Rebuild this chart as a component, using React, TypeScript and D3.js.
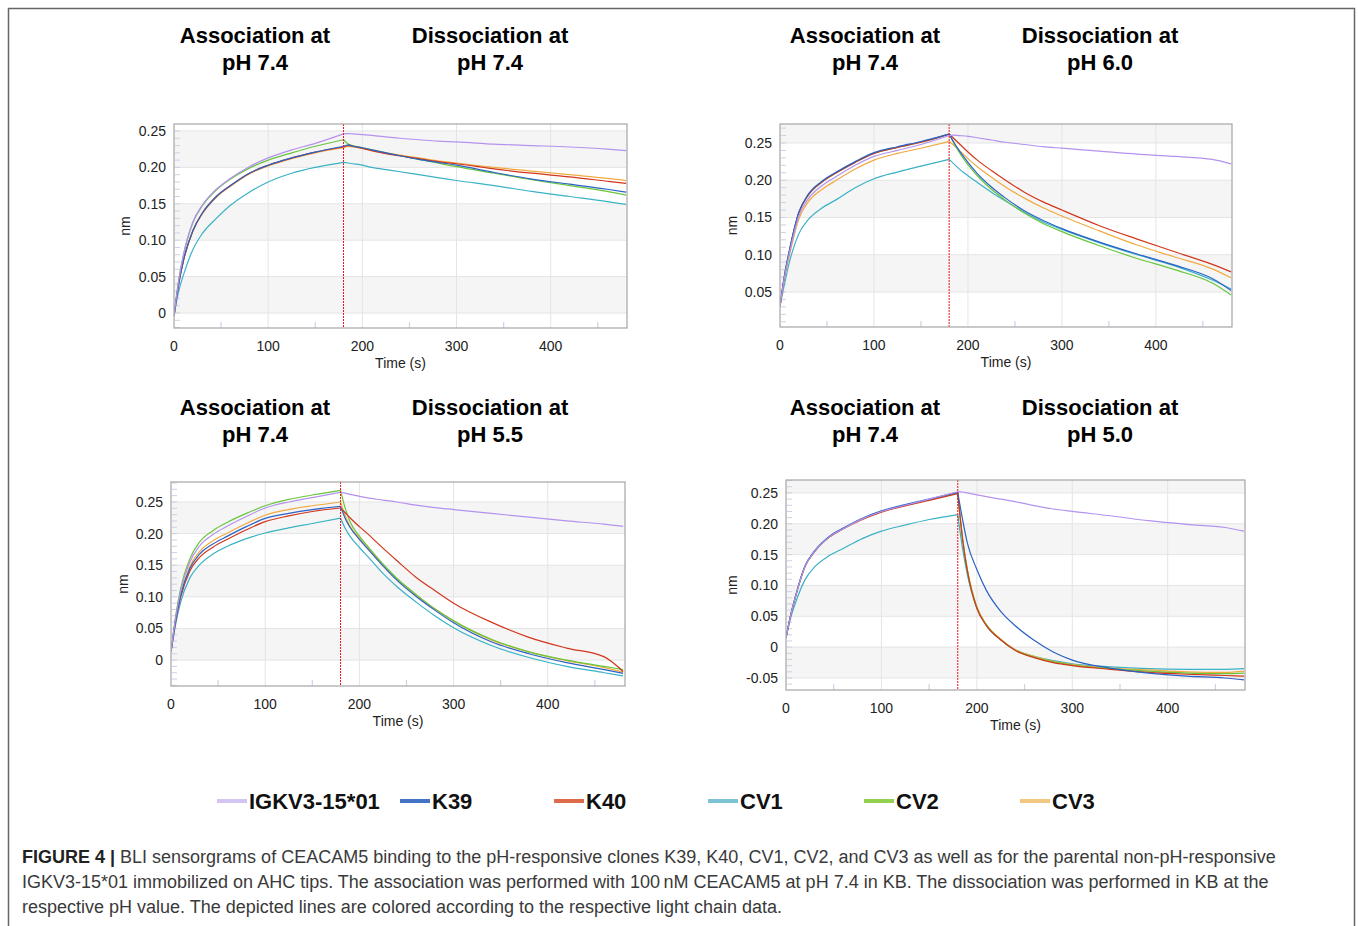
import React from "react";
import * as d3 from "d3";

// ---------------- DATA ----------------
const TIME = [0, 5, 10, 20, 30, 45, 60, 80, 100, 125, 150, 180, 185, 190, 200, 210, 225, 240, 260, 280, 300, 340, 380, 420, 460, 480];
const SERIES = ["IGKV3-15*01", "K39", "K40", "CV1", "CV2", "CV3"];
const Y_TICKS_A = [0, 0.05, 0.1, 0.15, 0.2, 0.25];
const Y_TICKS_B = [0.05, 0.1, 0.15, 0.2, 0.25];
const Y_TICKS_D = [-0.05, 0, 0.05, 0.1, 0.15, 0.2, 0.25];
const X_TICKS = [0, 100, 200, 300, 400];
const X_MINOR = [50, 150, 250, 350, 450];
const DISSOC_START = 180;

// Panel 1: dissociation at pH 7.4
const P1_IGKV = [-0.004, 0.045, 0.08, 0.125, 0.148, 0.17, 0.185, 0.201, 0.213, 0.224, 0.233, 0.246, 0.2465, 0.246, 0.245, 0.244, 0.242, 0.24, 0.238, 0.236, 0.235, 0.232, 0.23, 0.228, 0.225, 0.223];
const P1_K39 = [-0.004, 0.04, 0.072, 0.113, 0.137, 0.16, 0.175, 0.192, 0.203, 0.213, 0.221, 0.229, 0.231, 0.229, 0.227, 0.224, 0.22, 0.216, 0.211, 0.207, 0.203, 0.193, 0.184, 0.177, 0.17, 0.166];
const P1_K40 = [-0.004, 0.04, 0.072, 0.113, 0.137, 0.16, 0.175, 0.192, 0.203, 0.213, 0.221, 0.228, 0.23, 0.229, 0.226, 0.223, 0.219, 0.216, 0.212, 0.208, 0.205, 0.198, 0.192, 0.187, 0.181, 0.178];
const P1_CV1 = [-0.004, 0.03, 0.052, 0.087, 0.109, 0.13, 0.148, 0.166, 0.18, 0.192, 0.2, 0.207, 0.206, 0.205, 0.203, 0.2, 0.197, 0.194, 0.19, 0.186, 0.182, 0.175, 0.167, 0.16, 0.153, 0.149];
const P1_CV2 = [-0.004, 0.045, 0.079, 0.124, 0.147, 0.169, 0.184, 0.199, 0.21, 0.22, 0.229, 0.238, 0.232, 0.23, 0.227, 0.224, 0.22, 0.216, 0.211, 0.206, 0.201, 0.192, 0.183, 0.175, 0.167, 0.162];
const P1_CV3 = [-0.004, 0.04, 0.071, 0.112, 0.136, 0.159, 0.174, 0.191, 0.202, 0.212, 0.22, 0.227, 0.229, 0.228, 0.226, 0.223, 0.22, 0.217, 0.213, 0.209, 0.206, 0.2, 0.195, 0.19, 0.185, 0.182];

// Panel 2: dissociation at pH 6.0
const P2_IGKV = [0.031, 0.071, 0.102, 0.152, 0.175, 0.193, 0.205, 0.22, 0.232, 0.24, 0.248, 0.26, 0.2605, 0.26, 0.259, 0.257, 0.254, 0.251, 0.248, 0.245, 0.243, 0.239, 0.235, 0.232, 0.228, 0.222];
const P2_K39 = [0.031, 0.074, 0.106, 0.157, 0.181, 0.199, 0.211, 0.225, 0.237, 0.245, 0.252, 0.262, 0.251, 0.241, 0.224, 0.209, 0.191, 0.176, 0.159, 0.146, 0.135, 0.117, 0.101, 0.086, 0.068, 0.052];
const P2_K40 = [0.031, 0.073, 0.105, 0.156, 0.18, 0.198, 0.21, 0.224, 0.236, 0.244, 0.251, 0.262, 0.256, 0.25, 0.238, 0.227, 0.213, 0.2, 0.184, 0.171, 0.16, 0.139, 0.121, 0.104, 0.087, 0.077];
const P2_CV1 = [0.031, 0.062, 0.09, 0.128, 0.147, 0.163, 0.174, 0.19, 0.202, 0.211, 0.219, 0.228, 0.222, 0.216, 0.206, 0.197, 0.184, 0.172, 0.157, 0.144, 0.134, 0.116, 0.1, 0.085, 0.066, 0.054];
const P2_CV2 = [0.031, 0.073, 0.105, 0.156, 0.18, 0.198, 0.21, 0.224, 0.236, 0.244, 0.251, 0.262, 0.25, 0.239, 0.221, 0.206, 0.188, 0.173, 0.156, 0.142, 0.131, 0.112, 0.095, 0.08, 0.062, 0.046];
const P2_CV3 = [0.031, 0.069, 0.099, 0.148, 0.171, 0.188, 0.2, 0.215, 0.227, 0.236, 0.243, 0.252, 0.247, 0.241, 0.229, 0.218, 0.204, 0.191, 0.176, 0.163, 0.152, 0.132, 0.113, 0.097, 0.081, 0.069];

// Panel 3: dissociation at pH 5.5
const P3_IGKV = [0.013, 0.068, 0.108, 0.155, 0.18, 0.199, 0.212, 0.227, 0.2405, 0.25, 0.257, 0.2653, 0.264, 0.262, 0.259, 0.256, 0.253, 0.25, 0.245, 0.241, 0.238, 0.232, 0.226, 0.22, 0.215, 0.2114];
const P3_K39 = [0.013, 0.064, 0.101, 0.145, 0.167, 0.184, 0.196, 0.211, 0.224, 0.232, 0.238, 0.243, 0.224, 0.21, 0.191, 0.174, 0.149, 0.126, 0.101, 0.079, 0.059, 0.029, 0.01, -0.004, -0.015, -0.021];
const P3_K40 = [0.013, 0.062, 0.098, 0.141, 0.162, 0.179, 0.191, 0.206, 0.219, 0.228, 0.235, 0.2405, 0.233, 0.225, 0.211, 0.198, 0.177, 0.157, 0.131, 0.11, 0.09, 0.06, 0.036, 0.019, 0.005, -0.018];
const P3_CV1 = [0.013, 0.057, 0.09, 0.13, 0.15, 0.168, 0.18, 0.192, 0.201, 0.209, 0.216, 0.2246, 0.208, 0.196, 0.178, 0.162, 0.137, 0.116, 0.092, 0.07, 0.051, 0.023, 0.004, -0.01, -0.02, -0.025];
const P3_CV2 = [0.013, 0.07, 0.112, 0.16, 0.186, 0.205, 0.218, 0.232, 0.244, 0.254, 0.261, 0.2685, 0.24, 0.219, 0.196, 0.178, 0.152, 0.129, 0.104, 0.081, 0.062, 0.033, 0.013, 0.0, -0.01, -0.015];
const P3_CV3 = [0.013, 0.065, 0.103, 0.148, 0.171, 0.189, 0.201, 0.216, 0.229, 0.238, 0.244, 0.25, 0.228, 0.212, 0.193, 0.176, 0.151, 0.128, 0.103, 0.081, 0.062, 0.032, 0.013, -0.001, -0.012, -0.019];

// Panel 4: dissociation at pH 5.0
const P4_IGKV = [0.015, 0.052, 0.082, 0.131, 0.155, 0.178, 0.192, 0.208, 0.22, 0.23, 0.24, 0.252, 0.2515, 0.25, 0.247, 0.244, 0.24, 0.236, 0.2295, 0.224, 0.22, 0.213, 0.205, 0.199, 0.194, 0.188];
const P4_K39 = [0.015, 0.053, 0.083, 0.132, 0.156, 0.179, 0.193, 0.209, 0.221, 0.231, 0.24, 0.251, 0.207, 0.169, 0.126, 0.092, 0.058, 0.035, 0.011, -0.008, -0.021, -0.034, -0.042, -0.047, -0.05, -0.053];
const P4_K40 = [0.015, 0.052, 0.082, 0.131, 0.155, 0.178, 0.192, 0.207, 0.219, 0.229, 0.238, 0.249, 0.175, 0.124, 0.063, 0.035, 0.012, -0.005, -0.017, -0.025, -0.03, -0.036, -0.041, -0.044, -0.046, -0.047];
const P4_CV1 = [0.015, 0.048, 0.072, 0.1095, 0.13, 0.148, 0.16, 0.176, 0.188, 0.198, 0.207, 0.215, 0.16, 0.118, 0.063, 0.035, 0.012, -0.004, -0.015, -0.022, -0.027, -0.032, -0.035, -0.036, -0.036, -0.035];
const P4_CV2 = [0.015, 0.052, 0.082, 0.131, 0.155, 0.178, 0.192, 0.208, 0.22, 0.23, 0.239, 0.25, 0.176, 0.125, 0.064, 0.036, 0.012, -0.005, -0.016, -0.024, -0.029, -0.035, -0.039, -0.042, -0.043, -0.042];
const P4_CV3 = [0.015, 0.052, 0.082, 0.131, 0.155, 0.178, 0.192, 0.208, 0.22, 0.23, 0.239, 0.25, 0.178, 0.127, 0.066, 0.037, 0.013, -0.004, -0.015, -0.023, -0.028, -0.034, -0.037, -0.04, -0.041, -0.039];

const CAPTION_BOLD = "FIGURE 4 | ";
const CAPTION_LINES = [
  "BLI sensorgrams of CEACAM5 binding to the pH-responsive clones K39, K40, CV1, CV2, and CV3 as well as for the parental non-pH-responsive",
  "IGKV3-15*01 immobilized on AHC tips. The association was performed with 100\u2009nM CEACAM5 at pH 7.4 in KB. The dissociation was performed in KB at the",
  "respective pH value. The depicted lines are colored according to the respective light chain data.",
];

// ---------------- STYLE / LAYOUT ----------------
const LINE_COLORS = ["#b592ee", "#2b62c6", "#d2361c", "#3ab2c6", "#68c63a", "#f0aa40"];
const LEGEND_COLORS = ["#d4c4f4", "#4472c4", "#dd6a4a", "#7cc4d4", "#92d050", "#f2c880"];
const DRAW_ORDER = [3, 5, 4, 2, 1, 0];
const FONT = "'Liberation Sans', Arial, Helvetica, sans-serif";

type Panel = {
  data: number[][];
  yTicks: number[];
  yDomain: [number, number];
  xDomain: [number, number];
  rect: { x0: number; x1: number; y0: number; y1: number };
  titles: { text: string[]; cx: number }[];
  titleY: number;
  nmOffset: number;
};

const PANELS: Panel[] = [
  {
    data: [P1_IGKV, P1_K39, P1_K40, P1_CV1, P1_CV2, P1_CV3],
    yTicks: Y_TICKS_A,
    yDomain: [-0.0206, 0.2596],
    xDomain: [0, 481],
    rect: { x0: 174, x1: 627, y0: 124, y1: 328 },
    titles: [
      { text: ["Association at", "pH 7.4"], cx: 255 },
      { text: ["Dissociation at", "pH 7.4"], cx: 490 },
    ],
    titleY: 35,
    nmOffset: 49,
  },
  {
    data: [P2_IGKV, P2_K39, P2_K40, P2_CV1, P2_CV2, P2_CV3],
    yTicks: Y_TICKS_B,
    yDomain: [0.003, 0.2755],
    xDomain: [0, 481],
    rect: { x0: 780, x1: 1232, y0: 124, y1: 327 },
    titles: [
      { text: ["Association at", "pH 7.4"], cx: 865 },
      { text: ["Dissociation at", "pH 6.0"], cx: 1100 },
    ],
    titleY: 35,
    nmOffset: 48,
  },
  {
    data: [P3_IGKV, P3_K39, P3_K40, P3_CV1, P3_CV2, P3_CV3],
    yTicks: Y_TICKS_A,
    yDomain: [-0.041, 0.2816],
    xDomain: [0, 482],
    rect: { x0: 171, x1: 625, y0: 482, y1: 686 },
    titles: [
      { text: ["Association at", "pH 7.4"], cx: 255 },
      { text: ["Dissociation at", "pH 5.5"], cx: 490 },
    ],
    titleY: 407,
    nmOffset: 48,
  },
  {
    data: [P4_IGKV, P4_K39, P4_K40, P4_CV1, P4_CV2, P4_CV3],
    yTicks: Y_TICKS_D,
    yDomain: [-0.0695, 0.271],
    xDomain: [0, 481],
    rect: { x0: 786, x1: 1245, y0: 480, y1: 690 },
    titles: [
      { text: ["Association at", "pH 7.4"], cx: 865 },
      { text: ["Dissociation at", "pH 5.0"], cx: 1100 },
    ],
    titleY: 407,
    nmOffset: 54,
  },
];

const fmt = (v: number) => (Math.abs(v) < 1e-9 ? "0" : v.toFixed(2));

function PanelChart({ p }: { p: Panel }) {
  const { x0, x1, y0, y1 } = p.rect;
  const x = d3.scaleLinear().domain(p.xDomain).range([x0, x1]);
  const y = d3.scaleLinear().domain(p.yDomain).range([y1, y0]);
  const split = TIME.indexOf(DISSOC_START);

  const mk = (vals: number[], from: number, to: number) => {
    const pts: [number, number][] = [];
    for (let i = from; i <= to; i++) pts.push([x(TIME[i]), y(vals[i])]);
    return d3.line().curve(d3.curveMonotoneX)(pts) || "";
  };

  const bands: [number, number][] = [];
  for (let i = 0; i < p.yTicks.length; i += 2) {
    const a = p.yTicks[i];
    const b = i + 1 < p.yTicks.length ? p.yTicks[i + 1] : p.yDomain[1];
    bands.push([a, b]);
  }
  const minor: number[] = [];
  for (let v = Math.ceil(p.yDomain[0] * 100); v <= Math.floor(p.yDomain[1] * 100); v++) minor.push(v / 100);

  const clipId = `clip-${x0}-${y0}`;
  return (
    <g>
      <defs>
        <clipPath id={clipId}>
          <rect x={x0} y={y0} width={x1 - x0} height={y1 - y0} />
        </clipPath>
      </defs>
      <rect x={x0} y={y0} width={x1 - x0} height={y1 - y0} fill="#ffffff" />
      <g clipPath={`url(#${clipId})`}>
        {bands.map(([a, b], i) => (
          <rect key={i} x={x0} width={x1 - x0} y={y(b)} height={y(a) - y(b)} fill="#f5f5f5" />
        ))}
        {p.yTicks.map((t) => (
          <line key={t} x1={x0} x2={x1} y1={y(t)} y2={y(t)} stroke="#e4e4e4" strokeWidth={1} />
        ))}
        {X_TICKS.filter((t) => t > 0).map((t) => (
          <line key={t} x1={x(t)} x2={x(t)} y1={y0} y2={y1} stroke="#e4e4e4" strokeWidth={1} />
        ))}
        {minor.map((m) => (
          <line key={m} x1={x0 + 1} x2={x0 + 6} y1={y(m)} y2={y(m)} stroke="#cfcfe6" strokeWidth={1} />
        ))}
        {X_MINOR.map((t) => (
          <line key={t} x1={x(t)} x2={x(t)} y1={y1 - 6} y2={y1} stroke="#cfcfe6" strokeWidth={1.2} />
        ))}
        {DRAW_ORDER.map((si) => (
          <g key={si}>
            <path d={mk(p.data[si], 0, split)} fill="none" stroke={LINE_COLORS[si]} strokeWidth={1.2} />
            <path d={mk(p.data[si], split, TIME.length - 1)} fill="none" stroke={LINE_COLORS[si]} strokeWidth={1.2} />
          </g>
        ))}
        <line x1={x(DISSOC_START)} x2={x(DISSOC_START)} y1={y0} y2={y1} stroke="#e8141a" strokeWidth={1} strokeDasharray="2,1" />
      </g>
      <rect x={x0} y={y0} width={x1 - x0} height={y1 - y0} fill="none" stroke="#a6a6a6" strokeWidth={1.2} />
      {p.yTicks.map((t) => (
        <text key={t} x={x0 - 8} y={y(t)} textAnchor="end" dominantBaseline="central" fontSize={14} fontFamily={FONT} fill="#222">
          {fmt(t)}
        </text>
      ))}
      {X_TICKS.map((t) => (
        <text key={t} x={x(t)} y={y1 + 18} textAnchor="middle" dominantBaseline="central" fontSize={14} fontFamily={FONT} fill="#222">
          {t}
        </text>
      ))}
      <text x={(x0 + x1) / 2} y={y1 + 35} textAnchor="middle" dominantBaseline="central" fontSize={14} fontFamily={FONT} fill="#222">
        Time (s)
      </text>
      <text
        transform={`translate(${x0 - p.nmOffset},${(y0 + y1) / 2}) rotate(-90)`}
        textAnchor="middle"
        dominantBaseline="central"
        fontSize={14}
        fontFamily={FONT}
        fill="#222"
      >
        nm
      </text>
      {p.titles.map((t, i) => (
        <g key={i}>
          {t.text.map((s, j) => (
            <text key={j} x={t.cx} y={p.titleY + j * 27} textAnchor="middle" dominantBaseline="central" fontSize={22} fontWeight="bold" fontFamily={FONT} fill="#000">
              {s}
            </text>
          ))}
        </g>
      ))}
    </g>
  );
}

const LEGEND_X = [217, 400, 554, 708, 864, 1020];

export default function App() {
  return (
    <svg width={1358} height={926} style={{ position: "absolute", left: 0, top: 0, background: "#fff" }}>
      <rect x={0} y={0} width={1358} height={926} fill="#fff" />
      <path d="M8.5,926 L8.5,8.5 L1354.5,8.5 L1354.5,926" fill="none" stroke="#666" strokeWidth={1.5} />
      {PANELS.map((p, i) => (
        <PanelChart key={i} p={p} />
      ))}
      {SERIES.map((s, i) => (
        <g key={s}>
          <line x1={LEGEND_X[i]} x2={LEGEND_X[i] + 30} y1={801} y2={801} stroke={LEGEND_COLORS[i]} strokeWidth={4} />
          <text x={LEGEND_X[i] + 32} y={801} dominantBaseline="central" fontSize={22} fontWeight="bold" fontFamily={FONT} fill="#111">
            {s}
          </text>
        </g>
      ))}
      {CAPTION_LINES.map((l, i) => (
        <text key={i} x={22} y={857 + i * 25} dominantBaseline="central" fontSize={18} fontFamily={FONT} fill="#3a3a3a">
          {i === 0 ? <tspan fontWeight="bold" fill="#222">{CAPTION_BOLD}</tspan> : null}
          {l}
        </text>
      ))}
    </svg>
  );
}
